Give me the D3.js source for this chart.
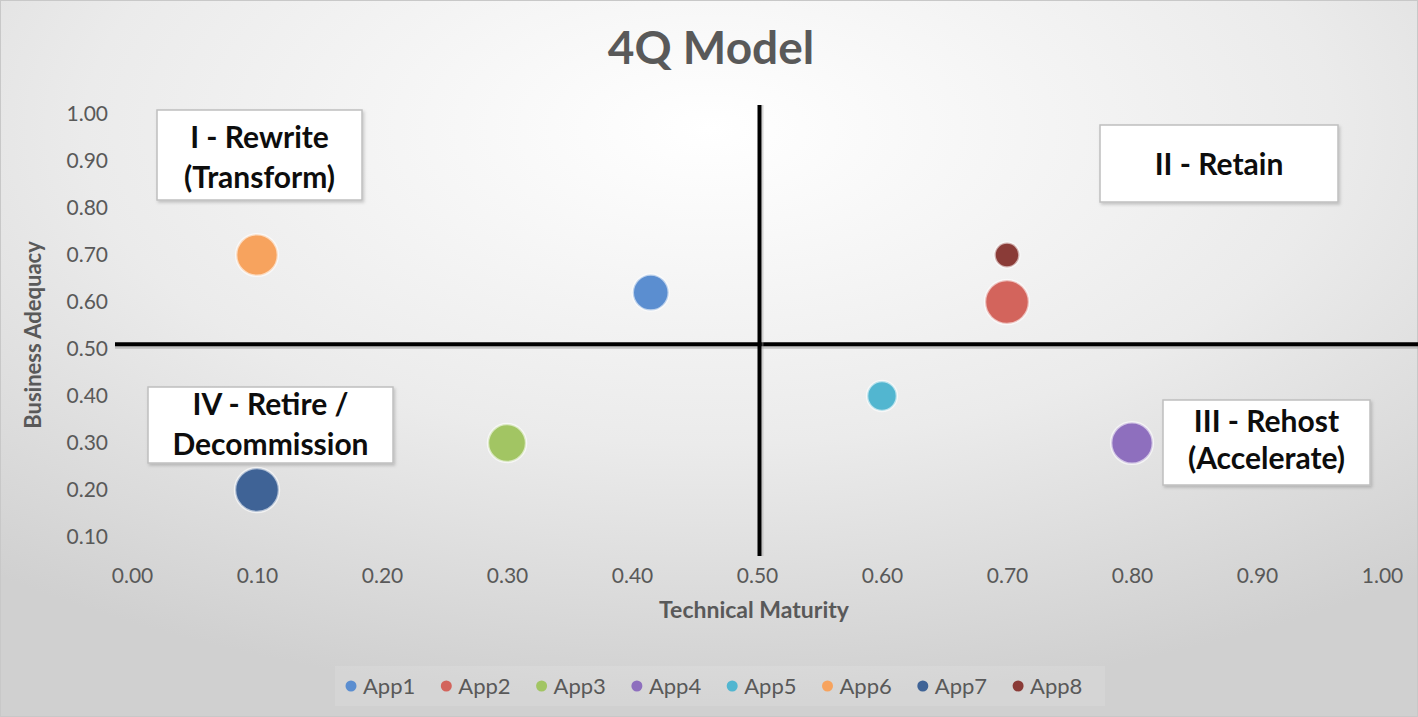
<!DOCTYPE html>
<html><head><meta charset="utf-8">
<script src="https://cdn.jsdelivr.net/npm/d3@7"></script>
<style>
html,body{margin:0;padding:0;background:#fff;}
svg{display:block;}
text{font-family:Lato,"Open Sans",sans-serif;}
</style></head>
<body><svg id="chart" width="1418" height="717"></svg>
<script>
// ---- data ----
const apps = ["App1","App2","App3","App4","App5","App6","App7","App8"];
const technicalMaturity = [0.415,0.70,0.30,0.80,0.60,0.10,0.10,0.70];
const businessAdequacy  = [0.62,0.60,0.30,0.30,0.40,0.70,0.20,0.70];
const bubbleSize        = [6.7,10,7.5,9,4.6,9,10,3.2];
const colors = ["#5B8ED0","#D3645C","#A2C563","#8E6FBE","#52B6D0","#F7A35E","#3F6396","#8A3B37"];
const xTicks = [0,0.1,0.2,0.3,0.4,0.5,0.6,0.7,0.8,0.9,1.0];
const yTicks = [0.1,0.2,0.3,0.4,0.5,0.6,0.7,0.8,0.9,1.0];
const dividers = {x:0.502, y:0.51};
const quadrants = [
  {lines:["I - Rewrite","(Transform)"], box:[157,110,362,200], base:[148,188]},
  {lines:["II - Retain"], box:[1100,125,1338,202], base:[175]},
  {lines:["IV - Retire /","Decommission"], box:[148,387,393,463], base:[415,455]},
  {lines:["III - Rehost","(Accelerate)"], box:[1163,400,1370,485], base:[432,469]}
];

const svg = d3.select("#chart");
const W = 1418, H = 717;
const defs = svg.append("defs");
const rg = defs.append("radialGradient").attr("id","bg").attr("cx","50%").attr("cy","18%").attr("r","80%")
  .attr("gradientUnits","objectBoundingBox");
rg.append("stop").attr("offset","0%").attr("stop-color","#ffffff");
rg.append("stop").attr("offset","55%").attr("stop-color","#ebebeb");
rg.append("stop").attr("offset","100%").attr("stop-color","#d0d0d0");
const sh = defs.append("filter").attr("id","shadow").attr("x","-10%").attr("y","-10%").attr("width","130%").attr("height","140%");
sh.append("feDropShadow").attr("dx",1.5).attr("dy",2).attr("stdDeviation",1.5).attr("flood-color","#000").attr("flood-opacity",0.18);

svg.append("rect").attr("width",W).attr("height",H).attr("fill","url(#bg)")
  .attr("stroke","#c8c8c8").attr("stroke-width",2);

const x = d3.scaleLinear().domain([0,1]).range([132,1382]);
const y = d3.scaleLinear().domain([0.1,1]).range([537,114]);
const r = d3.scaleSqrt().domain([0,10]).range([0,22]);

// title
svg.append("text").attr("x",711).attr("y",64).attr("text-anchor","middle")
  .attr("font-size",46).attr("font-weight","bold").attr("fill","#595959").text("4Q Model");

// axes
const gx = svg.append("g").attr("transform","translate(0,562)")
  .call(d3.axisBottom(x).tickValues(xTicks).tickFormat(d3.format(".2f")).tickSize(0).tickPadding(6));
const gy = svg.append("g").attr("transform","translate(112,0)")
  .call(d3.axisLeft(y).tickValues(yTicks).tickFormat(d3.format(".2f")).tickSize(0).tickPadding(4));
[gx,gy].forEach(g=>{
  g.select(".domain").remove();
  g.selectAll("text").attr("font-size",21).attr("fill","#595959").attr("font-family","Lato,sans-serif");
});

// axis titles
svg.append("text").attr("x",754).attr("y",618).attr("text-anchor","middle")
  .attr("font-size",23).attr("font-weight","bold").attr("fill","#595959").text("Technical Maturity");
svg.append("text").attr("transform","translate(41,335) rotate(-90)").attr("text-anchor","middle")
  .attr("font-size",22).attr("font-weight","bold").attr("fill","#595959").text("Business Adequacy");

// divider lines
svg.append("line").attr("x1",115).attr("x2",W).attr("y1",y(dividers.y)+3).attr("y2",y(dividers.y)+3)
  .attr("stroke","#9a9a9a").attr("stroke-opacity",0.5).attr("stroke-width",3);
svg.append("line").attr("x1",115).attr("x2",W).attr("y1",y(dividers.y)).attr("y2",y(dividers.y))
  .attr("stroke","#000").attr("stroke-width",4);
svg.append("line").attr("x1",x(dividers.x)+3).attr("x2",x(dividers.x)+3).attr("y1",105).attr("y2",556)
  .attr("stroke","#9a9a9a").attr("stroke-opacity",0.4).attr("stroke-width",2);
svg.append("line").attr("x1",x(dividers.x)).attr("x2",x(dividers.x)).attr("y1",105).attr("y2",556)
  .attr("stroke","#000").attr("stroke-width",4);

// quadrant boxes
quadrants.forEach(q=>{
  const [x0,y0,x1,y1] = q.box;
  const g = svg.append("g");
  g.append("rect").attr("x",x0).attr("y",y0).attr("width",x1-x0).attr("height",y1-y0)
    .attr("fill","#fff").attr("stroke","#bfbfbf").attr("stroke-width",1.5).attr("filter","url(#shadow)");
  q.lines.forEach((t,i)=>{
    g.append("text").attr("x",(x0+x1)/2).attr("y",q.base[i]).attr("text-anchor","middle")
      .attr("font-size",30).attr("font-weight","bold").attr("fill","#0d0d0d").text(t);
  });
});

// bubbles
const data = apps.map((a,i)=>({name:a,x:technicalMaturity[i],y:businessAdequacy[i],s:bubbleSize[i],c:colors[i]}));
svg.append("g").selectAll("circle").data(data).join("circle")
  .attr("cx",d=>x(d.x)).attr("cy",d=>y(d.y)).attr("r",d=>r(d.s))
  .attr("fill",d=>d.c).attr("stroke","#fff").attr("stroke-opacity",0.6).attr("stroke-width",2.5);

// legend
const lg = svg.append("g");
lg.append("rect").attr("x",335).attr("y",666).attr("width",770).attr("height",40).attr("fill","#ffffff").attr("fill-opacity",0.12);
const li = lg.selectAll("g.item").data(data).join("g").attr("class","item")
  .attr("transform",(d,i)=>`translate(${351+i*95.3},686)`);
li.append("circle").attr("r",5.5).attr("fill",d=>d.c);
li.append("text").attr("x",12).attr("y",8).attr("font-size",22).attr("fill","#595959").text(d=>d.name);
</script></body></html>
